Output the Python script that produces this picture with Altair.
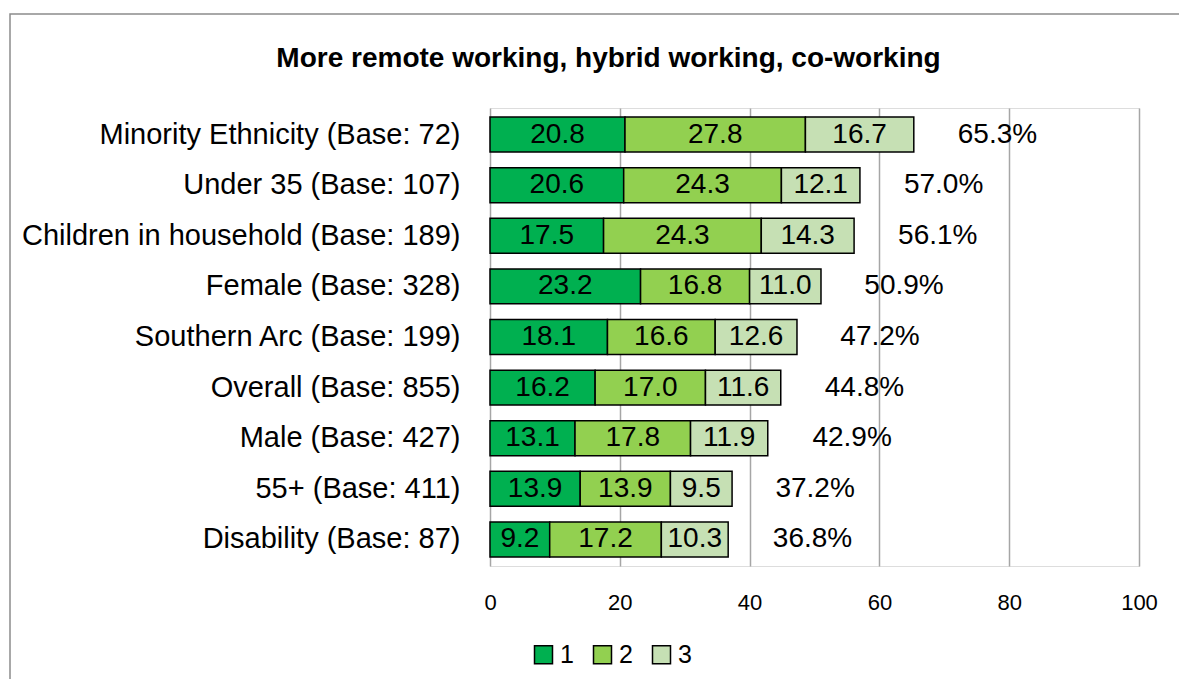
import altair as alt
import pandas as pd

categories = [
    "Minority Ethnicity (Base: 72)",
    "Under 35 (Base: 107)",
    "Children in household (Base: 189)",
    "Female (Base: 328)",
    "Southern Arc (Base: 199)",
    "Overall (Base: 855)",
    "Male (Base: 427)",
    "55+ (Base: 411)",
    "Disability (Base: 87)",
]
series_names = ["1", "2", "3"]
s1 = [20.8, 20.6, 17.5, 23.2, 18.1, 16.2, 13.1, 13.9, 9.2]
s2 = [27.8, 24.3, 24.3, 16.8, 16.6, 17.0, 17.8, 13.9, 17.2]
s3 = [16.7, 12.1, 14.3, 11.0, 12.6, 11.6, 11.9, 9.5, 10.3]
totals = [65.3, 57.0, 56.1, 50.9, 47.2, 44.8, 42.9, 37.2, 36.8]
colors = ["#00B050", "#92D050", "#C6E0B4"]
title_text = "More remote working, hybrid working, co-working"

FONT = "Liberation Sans"

rows = []
for i, c in enumerate(categories):
    for sname, vals in zip(series_names, [s1, s2, s3]):
        rows.append({"category": c, "series": sname, "value": vals[i]})
df = pd.DataFrame(rows)
tot_df = pd.DataFrame({"category": categories, "total": totals})

y_enc = alt.Y(
    "category:N",
    sort=categories,
    title=None,
    scale=alt.Scale(paddingInner=0.31, paddingOuter=0.18),
    axis=alt.Axis(domain=False, ticks=False, tickSize=0, labelPadding=30,
                  labelFontSize=29, labelFont=FONT, labelColor="black",
                  labelLimit=0, grid=False),
)

base = alt.Chart(df).transform_stack(
    stack="value", groupby=["category"], as_=["x0", "x1"],
    sort=[alt.SortField("series", order="ascending")],
)

bars = base.mark_bar(stroke="black", strokeWidth=1.5).encode(
    x=alt.X("x0:Q", title=None,
            scale=alt.Scale(domain=[0, 100], nice=False),
            axis=alt.Axis(values=[0, 20, 40, 60, 80, 100], grid=True,
                          gridColor="#A6A6A6", gridWidth=1.5,
                          domain=False, ticks=False, tickSize=0,
                          labelFlush=False,
                          labelPadding=26, labelFontSize=22,
                          labelFont=FONT, labelColor="black")),
    x2="x1:Q",
    y=y_enc,
    color=alt.Color("series:N",
                    scale=alt.Scale(domain=series_names, range=colors),
                    legend=alt.Legend(title=None, orient="none",
                                      legendX=41, legendY=534,
                                      direction="horizontal",
                                      symbolType="square",
                                      symbolSize=324,
                                      symbolStrokeColor="black",
                                      symbolStrokeWidth=1.5,
                                      symbolOpacity=1,
                                      labelFontSize=25, labelFont=FONT,
                                      labelColor="black", labelOffset=4,
                                      columnPadding=16, padding=0)),
)

labels = base.transform_calculate(mid="(datum.x0 + datum.x1) / 2").mark_text(
    fontSize=28, font=FONT, color="black", baseline="middle", align="center"
).encode(
    x="mid:Q",
    y=alt.Y("category:N", sort=categories),
    text=alt.Text("value:Q", format=".1f"),
)

total_labels = alt.Chart(tot_df).transform_calculate(
    lab="format(datum.total, '.1f') + '%'"
).mark_text(
    fontSize=28, font=FONT, color="black", baseline="middle", align="left", dx=44
).encode(
    x="total:Q",
    y=alt.Y("category:N", sort=categories),
    text="lab:N",
)

frame = alt.Chart(pd.DataFrame({"a": [0]})).mark_rect(
    fillOpacity=0, stroke="#8C8C8C", strokeWidth=1.5
).encode(
    x=alt.value(-480), x2=alt.value(760), y=alt.value(-94), y2=alt.value(700)
)

chart = alt.layer(frame, bars, labels, total_labels).properties(
    width=649,
    height=458,
    title=alt.TitleParams(title_text, fontSize=28, fontWeight="bold", font=FONT,
                          color="black", anchor="middle", frame="group",
                          baseline="alphabetic", offset=-82, dx=-206),
    autosize=alt.AutoSizeParams(type="none"),
    padding={"left": 482, "top": 100, "right": 40, "bottom": 113},
).configure_view(stroke=None).configure(background="white")

chart.save("out.html", embed_options={"renderer": "svg", "actions": False})
